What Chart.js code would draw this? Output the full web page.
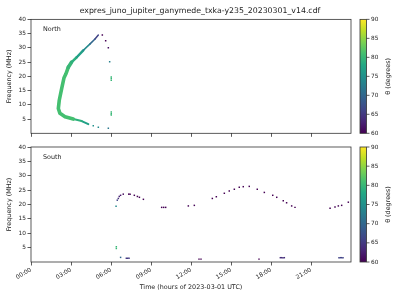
<!DOCTYPE html>
<html>
<head>
<meta charset="utf-8">
<script src="https://cdn.jsdelivr.net/npm/chart.js@4.4.1/dist/chart.umd.min.js"></script>
<style>
    html, body { margin: 0; padding: 0; background: #fff; }
    #north { position: absolute; left: 0; top: 0; }
    #south { position: absolute; left: 0; top: 140px; }
</style>
</head>
<body>
<canvas id="north" width="400" height="140"></canvas>
<canvas id="south" width="400" height="160"></canvas>
<script>
const titleText = "expres_juno_jupiter_ganymede_txka-y235_20230301_v14.cdf";
const hourTicks = [0, 3, 6, 9, 12, 15, 18, 21];
const freqTicks = [5, 10, 15, 20, 25, 30, 35, 40];
const thetaTicks = [60, 65, 70, 75, 80, 85, 90];

// North: main arc (hours, MHz, degrees)
const northCurveTime = [4.30, 3.80, 3.17, 2.55, 2.17, 2.05, 2.12, 2.30, 2.47, 2.62, 2.80, 3.05, 3.43, 3.92, 4.43, 4.80, 5.05];
const northCurveFreq = [3.2, 4.3, 5.0, 5.8, 7.0, 8.7, 11.6, 15.7, 19.4, 20.9, 23.2, 25.0, 26.7, 29.1, 31.4, 33.1, 34.5];
const northCurveTheta = [77, 79, 81, 81, 81, 81, 81, 81, 81, 81, 80, 79, 77, 74, 70, 66, 61];

// North: isolated detections
const northDotTime = [4.67, 5.05, 5.35, 5.60, 5.80, 5.90, 6.02, 6.02, 6.02, 6.02, 6.02, 6.02, 5.80];
const northDotFreq = [2.65, 2.09, 34.5, 32.5, 30.0, 25.1, 18.6, 19.2, 19.8, 6.4, 6.9, 7.5, 1.75];
const northDotTheta = [75, 74, 60, 60, 61, 73, 80, 80, 80, 80, 80, 80, 72];

// South detections
const southTime = [6.38, 6.47, 6.55, 6.62, 6.72, 6.92, 7.33, 7.43, 7.75, 7.98, 8.13, 8.43,
    9.80, 9.95, 10.10, 11.80, 12.25, 13.60, 13.90, 14.50, 14.87, 15.25, 15.62, 15.92, 16.37,
    16.97, 17.50, 18.13, 18.43, 18.92, 19.17, 19.55, 19.80, 22.43, 22.80, 23.05, 23.30, 23.80,
    6.40, 6.40, 6.72, 7.15, 7.25, 7.35, 12.60, 12.75, 17.10, 18.70, 18.80, 18.90, 19.00,
    23.10, 23.20, 23.30, 23.40];
const southFreq = [19.4, 21.5, 22.1, 22.8, 23.2, 23.6, 23.6, 23.6, 23.2, 22.8, 22.5, 21.8,
    19.0, 19.0, 19.0, 19.5, 19.7, 22.1, 22.7, 23.9, 24.7, 25.3, 26.0, 26.2, 26.3,
    25.3, 24.2, 23.2, 22.5, 21.3, 20.6, 19.5, 19.0, 18.7, 19.1, 19.5, 19.7, 20.8,
    4.7, 5.3, 1.6, 1.3, 1.3, 1.3, 1.0, 1.0, 1.0, 1.5, 1.5, 1.5, 1.5,
    1.5, 1.5, 1.5, 1.5];
const southTheta = [74, 66, 64, 63, 62, 61, 60, 60, 60, 60, 60, 60,
    60, 60, 60, 60, 60, 60, 60, 60, 60, 60, 60, 60, 60,
    60, 60, 60, 60, 60, 60, 60, 60, 60, 60, 60, 60, 60,
    80, 80, 70, 65, 65, 65, 60, 60, 60, 64, 64, 64, 64,
    66, 66, 66, 66];

const viridisStops = ["#440154", "#482475", "#414487", "#355f8d", "#2a788e", "#21918c",
    "#22a884", "#44bf70", "#7ad151", "#bddf26", "#fde725"];

function hexToRgb(h) {
    return [parseInt(h.slice(1, 3), 16), parseInt(h.slice(3, 5), 16), parseInt(h.slice(5, 7), 16)];
}
function viridis(theta) {
    let t = Math.min(1, Math.max(0, (theta - 60) / 30)) * (viridisStops.length - 1);
    const i = Math.min(viridisStops.length - 2, Math.floor(t));
    const f = t - i;
    const a = hexToRgb(viridisStops[i]), b = hexToRgb(viridisStops[i + 1]);
    const c = a.map((v, k) => Math.round(v + (b[k] - v) * f));
    return `rgb(${c[0]},${c[1]},${c[2]})`;
}
function toPoints(xs, ys) {
    return xs.map((x, i) => ({ x: x, y: ys[i] }));
}
function arcWidth(f) {
    if (f > 29) return 1.5;
    if (f > 24) return 2.5;
    if (f > 4.5) return 3.6;
    return 2;
}

Chart.defaults.font.family = "'DejaVu Sans', sans-serif";
Chart.defaults.color = "#222";
Chart.defaults.animation = false;

const frameAndColorbar = {
    id: "frameAndColorbar",
    afterDraw(chart, args, opts) {
        const { ctx, chartArea } = chart;
        ctx.save();
        ctx.strokeStyle = "#333";
        ctx.lineWidth = 0.8;
        ctx.strokeRect(chartArea.left, chartArea.top, chartArea.right - chartArea.left, chartArea.bottom - chartArea.top);

        ctx.fillStyle = "#222";
        ctx.font = "6.4px 'DejaVu Sans'";
        ctx.textBaseline = "middle";
        ctx.fillText(opts.label, chartArea.left + 12, chartArea.top + 10);

        const cb = chart.scales.cb;
        const yTop = cb.getPixelForValue(90);
        const yBot = cb.getPixelForValue(60);
        const x0 = chartArea.right + 9;
        const w = 6.5;
        const grad = ctx.createLinearGradient(0, yBot, 0, yTop);
        viridisStops.forEach((c, i) => grad.addColorStop(i / (viridisStops.length - 1), c));
        ctx.fillStyle = grad;
        ctx.fillRect(x0, yTop, w, yBot - yTop);
        ctx.strokeRect(x0, yTop, w, yBot - yTop);
        cb.ticks.forEach(t => {
            const y = cb.getPixelForValue(t.value);
            ctx.beginPath();
            ctx.moveTo(x0 + w, y);
            ctx.lineTo(x0 + w + 3, y);
            ctx.stroke();
        });

        ctx.translate(388, (yTop + yBot) / 2);
        ctx.rotate(-Math.PI / 2);
        ctx.fillStyle = "#222";
        ctx.textAlign = "center";
        ctx.fillText("\u03b8 (degrees)", 0, 0);
        ctx.restore();
    }
};

function makeScales(showTimeLabels, xHeight) {
    return {
        x: {
            type: "linear",
            min: 0,
            max: 24,
            afterBuildTicks: s => { s.ticks = hourTicks.map(v => ({ value: v })); },
            afterFit: s => { s.height = xHeight; },
            border: { display: false },
            grid: { drawOnChartArea: false, drawTicks: true, tickLength: 3.5, color: "#333", lineWidth: 0.8 },
            ticks: {
                display: showTimeLabels,
                minRotation: 30,
                maxRotation: 30,
                padding: 1,
                font: { size: 5.8 },
                callback: v => String(v).padStart(2, "0") + ":00"
            },
            title: {
                display: showTimeLabels,
                text: "Time (hours of 2023-03-01 UTC)",
                font: { size: 6.4 },
                padding: { top: 0, bottom: 9 }
            }
        },
        y: {
            type: "linear",
            position: "left",
            min: 0,
            max: 40,
            afterBuildTicks: s => { s.ticks = freqTicks.map(v => ({ value: v })); },
            afterFit: s => { s.width = 31; },
            border: { display: false },
            grid: { drawOnChartArea: false, drawTicks: true, tickLength: 3.5, color: "#333", lineWidth: 0.8 },
            ticks: { padding: 1.5, font: { size: 5.8 } },
            title: {
                display: true,
                text: "Frequency (MHz)",
                font: { size: 6.4 },
                padding: { top: 6, bottom: 0 }
            }
        },
        cb: {
            type: "linear",
            position: "right",
            min: 60,
            max: 90,
            afterBuildTicks: s => { s.ticks = thetaTicks.map(v => ({ value: v })); },
            afterFit: s => { s.width = 49; },
            border: { display: false },
            // tick marks are drawn by the plugin next to the colour bar
            grid: { display: false, drawTicks: true, tickLength: 19 },
            ticks: { padding: 1, font: { size: 5.8 } }
        }
    };
}

const dotStyle = {
    showLine: false,
    pointStyle: "rect",
    pointRadius: 1.05,
    pointBorderWidth: 0
};

new Chart(document.getElementById("north"), {
    type: "scatter",
    data: {
        datasets: [
            {
                data: toPoints(northCurveTime, northCurveFreq),
                showLine: true,
                pointRadius: 0,
                borderColor: viridis(81),
                segment: {
                    borderColor: c => viridis(northCurveTheta[c.p0DataIndex]),
                    borderWidth: c => arcWidth(northCurveFreq[c.p0DataIndex]),
                    borderCapStyle: "round"
                },
                borderJoinStyle: "round"
            },
            Object.assign({
                data: toPoints(northDotTime, northDotFreq),
                pointBackgroundColor: c => viridis(northDotTheta[c.dataIndex])
            }, dotStyle)
        ]
    },
    options: {
        responsive: false,
        devicePixelRatio: 1,
        layout: { padding: 0 },
        scales: makeScales(false, 6.7),
        plugins: {
            legend: { display: false },
            tooltip: { enabled: false },
            title: {
                display: true,
                text: titleText,
                color: "#222",
                font: { size: 7.8, weight: "normal" },
                padding: { top: 6, bottom: 4 }
            },
            frameAndColorbar: { label: "North" }
        }
    },
    plugins: [frameAndColorbar]
});

new Chart(document.getElementById("south"), {
    type: "scatter",
    data: {
        datasets: [
            Object.assign({
                data: toPoints(southTime, southFreq),
                pointBackgroundColor: c => viridis(southTheta[c.dataIndex])
            }, dotStyle)
        ]
    },
    options: {
        responsive: false,
        devicePixelRatio: 1,
        layout: { padding: { top: 7 } },
        scales: makeScales(true, 38),
        plugins: {
            legend: { display: false },
            tooltip: { enabled: false },
            frameAndColorbar: { label: "South" }
        }
    },
    plugins: [frameAndColorbar]
});
</script>
</body>
</html>
